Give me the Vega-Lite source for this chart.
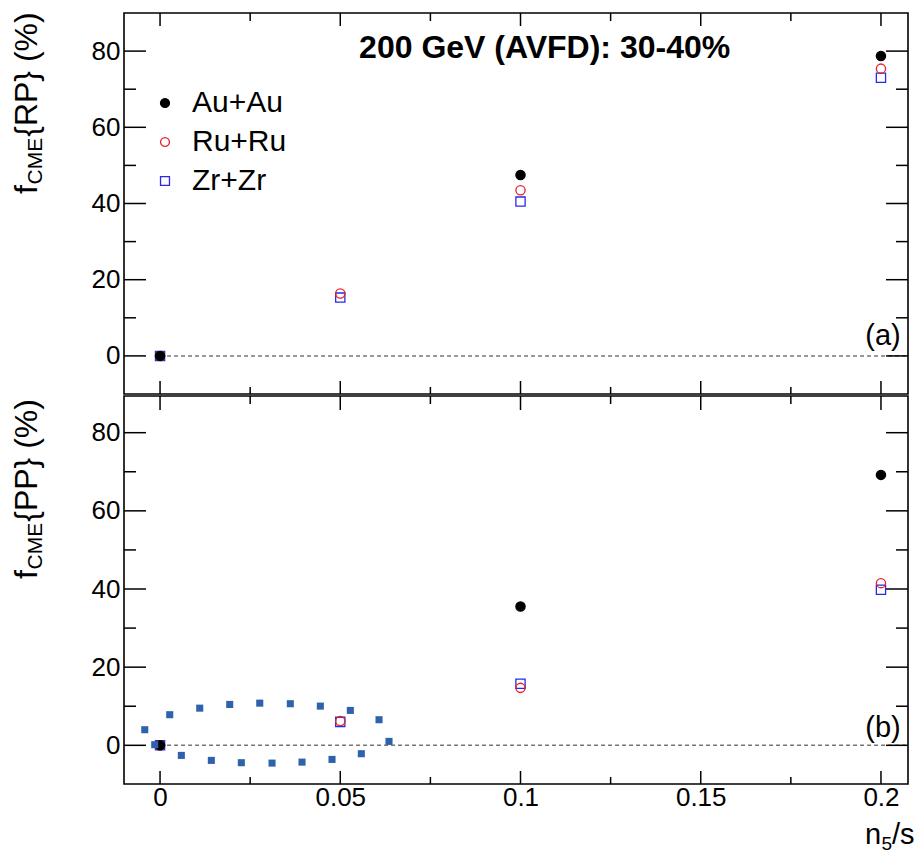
{
  "$schema": "https://vega.github.io/schema/vega-lite/v6.json",
  "background": "white",
  "padding": {"left": 10, "top": 11, "right": 0, "bottom": 0},
  "spacing": -8,
  "config": {
    "font": "Liberation Sans",
    "view": {"stroke": "#000", "strokeWidth": 1.6},
    "text": {"color": "#000"},
    "axis": {"ticks": false, "domain": false, "grid": false, "title": null}
  },
  "datasets": {
    "rp": [
      {"n5s": 0, "f": 0, "system": "Zr+Zr"},
      {"n5s": 0.05, "f": 15.3, "system": "Zr+Zr"},
      {"n5s": 0.1, "f": 40.5, "system": "Zr+Zr"},
      {"n5s": 0.2, "f": 73.0, "system": "Zr+Zr"},
      {"n5s": 0, "f": 0, "system": "Ru+Ru"},
      {"n5s": 0.05, "f": 16.4, "system": "Ru+Ru"},
      {"n5s": 0.1, "f": 43.5, "system": "Ru+Ru"},
      {"n5s": 0.2, "f": 75.4, "system": "Ru+Ru"},
      {"n5s": 0, "f": 0, "system": "Au+Au"},
      {"n5s": 0.1, "f": 47.5, "system": "Au+Au"},
      {"n5s": 0.2, "f": 78.7, "system": "Au+Au"}
    ],
    "pp": [
      {"n5s": 0, "f": 0, "system": "Zr+Zr"},
      {"n5s": 0.05, "f": 6.0, "system": "Zr+Zr"},
      {"n5s": 0.1, "f": 15.75, "system": "Zr+Zr"},
      {"n5s": 0.2, "f": 39.8, "system": "Zr+Zr"},
      {"n5s": 0, "f": 0, "system": "Ru+Ru"},
      {"n5s": 0.05, "f": 6.2, "system": "Ru+Ru"},
      {"n5s": 0.1, "f": 14.7, "system": "Ru+Ru"},
      {"n5s": 0.2, "f": 41.5, "system": "Ru+Ru"},
      {"n5s": 0, "f": 0, "system": "Au+Au"},
      {"n5s": 0.1, "f": 35.5, "system": "Au+Au"},
      {"n5s": 0.2, "f": 69.2, "system": "Au+Au"}
    ],
    "ellipse": [
      {"x": -0.00424, "y": 3.99},
      {"x": 0.00269, "y": 7.83},
      {"x": 0.01101, "y": 9.51},
      {"x": 0.01933, "y": 10.46},
      {"x": 0.02766, "y": 10.79},
      {"x": 0.03614, "y": 10.64},
      {"x": 0.04447, "y": 10.03},
      {"x": 0.05279, "y": 8.93},
      {"x": 0.06075, "y": 6.55},
      {"x": 0.06352, "y": 1.0},
      {"x": -0.00147, "y": 0.15},
      {"x": 0.00591, "y": -2.58},
      {"x": 0.01423, "y": -3.86},
      {"x": 0.02255, "y": -4.45},
      {"x": 0.03107, "y": -4.55},
      {"x": 0.03939, "y": -4.3},
      {"x": 0.04771, "y": -3.61},
      {"x": 0.05584, "y": -2.15}
    ],
    "xmaj": [{"t": 0}, {"t": 0.05}, {"t": 0.1}, {"t": 0.15}, {"t": 0.2}],
    "xmin": [{"t": 0.025}, {"t": 0.075}, {"t": 0.125}, {"t": 0.175}],
    "ymaj": [{"t": 0}, {"t": 20}, {"t": 40}, {"t": 60}, {"t": 80}],
    "ymin": [{"t": 10}, {"t": 30}, {"t": 50}, {"t": 70}]
  },
  "vconcat": [
    {
      "width": 784,
      "height": 381,
      "layer": [
        {
          "data": {"values": [{}]},
          "mark": {"type": "rule", "stroke": "#777", "strokeDash": [4, 3], "strokeWidth": 1.5},
          "encoding": {
            "x": {"datum": 0, "type": "quantitative", "scale": {"domain": [-0.01, 0.2075], "nice": false, "zero": false}, "axis": null},
            "x2": {"datum": 0.2075},
            "y": {"datum": 0, "type": "quantitative", "scale": {"domain": [-10, 90], "nice": false, "zero": false},
              "axis": {"orient": "left", "values": [0, 20, 40, 60, 80], "labelFontSize": 26, "labelColor": "#000", "labelPadding": 4, "labelFlush": false, "labelOverlap": false}}
          }
        },
        {
          "data": {"name": "xmaj"},
          "mark": {"type": "rule", "stroke": "#000", "strokeWidth": 1.5},
          "encoding": {
            "x": {"field": "t", "type": "quantitative", "scale": {"domain": [-0.01, 0.2075], "nice": false, "zero": false}, "axis": null},
            "y": {"datum": -10, "type": "quantitative", "scale": {"domain": [-10, 90], "nice": false, "zero": false}},
            "y2": {"datum": -6.588}
          }
        },
        {
          "data": {"name": "xmin"},
          "mark": {"type": "rule", "stroke": "#000", "strokeWidth": 1.5},
          "encoding": {
            "x": {"field": "t", "type": "quantitative", "scale": {"domain": [-0.01, 0.2075], "nice": false, "zero": false}, "axis": null},
            "y": {"datum": -10, "type": "quantitative", "scale": {"domain": [-10, 90], "nice": false, "zero": false}},
            "y2": {"datum": -8.163}
          }
        },
        {
          "data": {"name": "xmaj"},
          "mark": {"type": "rule", "stroke": "#000", "strokeWidth": 1.5},
          "encoding": {
            "x": {"field": "t", "type": "quantitative", "scale": {"domain": [-0.01, 0.2075], "nice": false, "zero": false}, "axis": null},
            "y": {"datum": 90, "type": "quantitative", "scale": {"domain": [-10, 90], "nice": false, "zero": false}},
            "y2": {"datum": 86.588}
          }
        },
        {
          "data": {"name": "xmin"},
          "mark": {"type": "rule", "stroke": "#000", "strokeWidth": 1.5},
          "encoding": {
            "x": {"field": "t", "type": "quantitative", "scale": {"domain": [-0.01, 0.2075], "nice": false, "zero": false}, "axis": null},
            "y": {"datum": 90, "type": "quantitative", "scale": {"domain": [-10, 90], "nice": false, "zero": false}},
            "y2": {"datum": 87.9}
          }
        },
        {
          "data": {"name": "ymaj"},
          "mark": {"type": "rule", "stroke": "#000", "strokeWidth": 1.5},
          "encoding": {
            "y": {"field": "t", "type": "quantitative", "scale": {"domain": [-10, 90], "nice": false, "zero": false}},
            "x": {"datum": -0.01, "type": "quantitative", "scale": {"domain": [-0.01, 0.2075], "nice": false, "zero": false}, "axis": null},
            "x2": {"datum": -0.003897}
          }
        },
        {
          "data": {"name": "ymin"},
          "mark": {"type": "rule", "stroke": "#000", "strokeWidth": 1.5},
          "encoding": {
            "y": {"field": "t", "type": "quantitative", "scale": {"domain": [-10, 90], "nice": false, "zero": false}},
            "x": {"datum": -0.01, "type": "quantitative", "scale": {"domain": [-0.01, 0.2075], "nice": false, "zero": false}, "axis": null},
            "x2": {"datum": -0.006671}
          }
        },
        {
          "data": {"name": "ymaj"},
          "mark": {"type": "rule", "stroke": "#000", "strokeWidth": 1.5},
          "encoding": {
            "y": {"field": "t", "type": "quantitative", "scale": {"domain": [-10, 90], "nice": false, "zero": false}},
            "x": {"datum": 0.2075, "type": "quantitative", "scale": {"domain": [-0.01, 0.2075], "nice": false, "zero": false}, "axis": null},
            "x2": {"datum": 0.201397}
          }
        },
        {
          "data": {"name": "ymin"},
          "mark": {"type": "rule", "stroke": "#000", "strokeWidth": 1.5},
          "encoding": {
            "y": {"field": "t", "type": "quantitative", "scale": {"domain": [-10, 90], "nice": false, "zero": false}},
            "x": {"datum": 0.2075, "type": "quantitative", "scale": {"domain": [-0.01, 0.2075], "nice": false, "zero": false}, "axis": null},
            "x2": {"datum": 0.204171}
          }
        },
        {
          "data": {"name": "rp"},
          "mark": {"type": "point", "size": 85, "strokeWidth": 1.3, "opacity": 1},
          "encoding": {
            "x": {"field": "n5s", "type": "quantitative", "scale": {"domain": [-0.01, 0.2075], "nice": false, "zero": false}, "axis": null},
            "y": {"field": "f", "type": "quantitative", "scale": {"domain": [-10, 90], "nice": false, "zero": false}},
            "fill": {"field": "system", "type": "nominal", "scale": {"domain": ["Au+Au", "Ru+Ru", "Zr+Zr"], "range": ["#000000", "transparent", "transparent"]},
              "legend": {"title": null, "orient": "none", "legendX": 26, "legendY": 75, "labelFontSize": 30, "labelColor": "#000", "symbolSize": 80, "symbolStrokeWidth": 1.3, "labelOffset": 12, "rowPadding": 9, "padding": 0}},
            "stroke": {"field": "system", "type": "nominal", "scale": {"domain": ["Au+Au", "Ru+Ru", "Zr+Zr"], "range": ["#000000", "#e8202a", "#2a2ae8"]},
              "legend": {"title": null, "orient": "none", "legendX": 26, "legendY": 75, "labelFontSize": 30, "labelColor": "#000", "symbolSize": 80, "symbolStrokeWidth": 1.3, "labelOffset": 12, "rowPadding": 9, "padding": 0}},
            "shape": {"field": "system", "type": "nominal", "scale": {"domain": ["Au+Au", "Ru+Ru", "Zr+Zr"], "range": ["circle", "circle", "square"]},
              "legend": {"title": null, "orient": "none", "legendX": 26, "legendY": 75, "labelFontSize": 30, "labelColor": "#000", "symbolSize": 80, "symbolStrokeWidth": 1.3, "labelOffset": 12, "rowPadding": 9, "padding": 0}}
          }
        },
        {
          "data": {"values": [{}]},
          "mark": {"type": "text", "text": "200 GeV (AVFD): 30-40%", "fontSize": 32, "fontWeight": "bold", "align": "center", "baseline": "alphabetic"},
          "encoding": {
            "x": {"datum": 0.1067, "type": "quantitative", "scale": {"domain": [-0.01, 0.2075], "nice": false, "zero": false}, "axis": null},
            "y": {"datum": 78.3, "type": "quantitative", "scale": {"domain": [-10, 90], "nice": false, "zero": false}}
          }
        },
        {
          "data": {"values": [{}]},
          "mark": {"type": "text", "text": "(a)", "fontSize": 29, "align": "right", "baseline": "alphabetic"},
          "encoding": {
            "x": {"datum": 0.2055, "type": "quantitative", "scale": {"domain": [-0.01, 0.2075], "nice": false, "zero": false}, "axis": null},
            "y": {"datum": 2.9, "type": "quantitative", "scale": {"domain": [-10, 90], "nice": false, "zero": false}}
          }
        },
        {
          "data": {"values": [{}]},
          "mark": {"type": "text", "text": "f", "fontSize": 32, "angle": 270, "align": "left", "baseline": "alphabetic"},
          "encoding": {
            "x": {"datum": -0.03412, "type": "quantitative", "scale": {"domain": [-0.01, 0.2075], "nice": false, "zero": false}, "axis": null},
            "y": {"datum": 42.49, "type": "quantitative", "scale": {"domain": [-10, 90], "nice": false, "zero": false}}
          }
        },
        {
          "data": {"values": [{}]},
          "mark": {"type": "text", "text": "CME", "fontSize": 21, "angle": 270, "align": "left", "baseline": "alphabetic"},
          "encoding": {
            "x": {"datum": -0.03273, "type": "quantitative", "scale": {"domain": [-0.01, 0.2075], "nice": false, "zero": false}, "axis": null},
            "y": {"datum": 44.99, "type": "quantitative", "scale": {"domain": [-10, 90], "nice": false, "zero": false}}
          }
        },
        {
          "data": {"values": [{}]},
          "mark": {"type": "text", "text": "{RP} (%)", "fontSize": 32, "angle": 270, "align": "left", "baseline": "alphabetic"},
          "encoding": {
            "x": {"datum": -0.03412, "type": "quantitative", "scale": {"domain": [-0.01, 0.2075], "nice": false, "zero": false}, "axis": null},
            "y": {"datum": 57.51, "type": "quantitative", "scale": {"domain": [-10, 90], "nice": false, "zero": false}}
          }
        }
      ]
    },
    {
      "width": 784,
      "height": 388,
      "layer": [
        {
          "data": {"values": [{}]},
          "mark": {"type": "rule", "stroke": "#777", "strokeDash": [4, 3], "strokeWidth": 1.5},
          "encoding": {
            "x": {"datum": 0, "type": "quantitative", "scale": {"domain": [-0.01, 0.2075], "nice": false, "zero": false},
              "axis": {"orient": "bottom", "values": [0, 0.05, 0.1, 0.15, 0.2], "format": "~g", "labelFontSize": 26, "labelColor": "#000", "labelPadding": 0, "labelFlush": false, "labelOverlap": false}},
            "x2": {"datum": 0.2075},
            "y": {"datum": 0, "type": "quantitative", "scale": {"domain": [-9.9, 89.39], "nice": false, "zero": false},
              "axis": {"orient": "left", "values": [0, 20, 40, 60, 80], "labelFontSize": 26, "labelColor": "#000", "labelPadding": 4, "labelFlush": false, "labelOverlap": false}}
          }
        },
        {
          "data": {"name": "xmaj"},
          "mark": {"type": "rule", "stroke": "#000", "strokeWidth": 1.5},
          "encoding": {
            "x": {"field": "t", "type": "quantitative", "scale": {"domain": [-0.01, 0.2075], "nice": false, "zero": false}},
            "y": {"datum": -9.9, "type": "quantitative", "scale": {"domain": [-9.9, 89.39], "nice": false, "zero": false}},
            "y2": {"datum": -6.573}
          }
        },
        {
          "data": {"name": "xmin"},
          "mark": {"type": "rule", "stroke": "#000", "strokeWidth": 1.5},
          "encoding": {
            "x": {"field": "t", "type": "quantitative", "scale": {"domain": [-0.01, 0.2075], "nice": false, "zero": false}},
            "y": {"datum": -9.9, "type": "quantitative", "scale": {"domain": [-9.9, 89.39], "nice": false, "zero": false}},
            "y2": {"datum": -8.109}
          }
        },
        {
          "data": {"name": "xmaj"},
          "mark": {"type": "rule", "stroke": "#000", "strokeWidth": 1.5},
          "encoding": {
            "x": {"field": "t", "type": "quantitative", "scale": {"domain": [-0.01, 0.2075], "nice": false, "zero": false}},
            "y": {"datum": 89.39, "type": "quantitative", "scale": {"domain": [-9.9, 89.39], "nice": false, "zero": false}},
            "y2": {"datum": 85.807}
          }
        },
        {
          "data": {"name": "xmin"},
          "mark": {"type": "rule", "stroke": "#000", "strokeWidth": 1.5},
          "encoding": {
            "x": {"field": "t", "type": "quantitative", "scale": {"domain": [-0.01, 0.2075], "nice": false, "zero": false}},
            "y": {"datum": 89.39, "type": "quantitative", "scale": {"domain": [-9.9, 89.39], "nice": false, "zero": false}},
            "y2": {"datum": 87.343}
          }
        },
        {
          "data": {"name": "ymaj"},
          "mark": {"type": "rule", "stroke": "#000", "strokeWidth": 1.5},
          "encoding": {
            "y": {"field": "t", "type": "quantitative", "scale": {"domain": [-9.9, 89.39], "nice": false, "zero": false}},
            "x": {"datum": -0.01, "type": "quantitative", "scale": {"domain": [-0.01, 0.2075], "nice": false, "zero": false}},
            "x2": {"datum": -0.003897}
          }
        },
        {
          "data": {"name": "ymin"},
          "mark": {"type": "rule", "stroke": "#000", "strokeWidth": 1.5},
          "encoding": {
            "y": {"field": "t", "type": "quantitative", "scale": {"domain": [-9.9, 89.39], "nice": false, "zero": false}},
            "x": {"datum": -0.01, "type": "quantitative", "scale": {"domain": [-0.01, 0.2075], "nice": false, "zero": false}},
            "x2": {"datum": -0.006671}
          }
        },
        {
          "data": {"name": "ymaj"},
          "mark": {"type": "rule", "stroke": "#000", "strokeWidth": 1.5},
          "encoding": {
            "y": {"field": "t", "type": "quantitative", "scale": {"domain": [-9.9, 89.39], "nice": false, "zero": false}},
            "x": {"datum": 0.2075, "type": "quantitative", "scale": {"domain": [-0.01, 0.2075], "nice": false, "zero": false}},
            "x2": {"datum": 0.201397}
          }
        },
        {
          "data": {"name": "ymin"},
          "mark": {"type": "rule", "stroke": "#000", "strokeWidth": 1.5},
          "encoding": {
            "y": {"field": "t", "type": "quantitative", "scale": {"domain": [-9.9, 89.39], "nice": false, "zero": false}},
            "x": {"datum": 0.2075, "type": "quantitative", "scale": {"domain": [-0.01, 0.2075], "nice": false, "zero": false}},
            "x2": {"datum": 0.204171}
          }
        },
        {
          "data": {"name": "pp"},
          "mark": {"type": "point", "size": 85, "strokeWidth": 1.3, "opacity": 1},
          "encoding": {
            "x": {"field": "n5s", "type": "quantitative", "scale": {"domain": [-0.01, 0.2075], "nice": false, "zero": false}},
            "y": {"field": "f", "type": "quantitative", "scale": {"domain": [-9.9, 89.39], "nice": false, "zero": false}},
            "fill": {"field": "system", "type": "nominal", "scale": {"domain": ["Au+Au", "Ru+Ru", "Zr+Zr"], "range": ["#000000", "transparent", "transparent"]},
              "legend": {"title": null, "orient": "none", "legendX": 26, "legendY": 75, "labelFontSize": 30, "labelColor": "#000", "symbolSize": 80, "symbolStrokeWidth": 1.3, "labelOffset": 12, "rowPadding": 9, "padding": 0}},
            "stroke": {"field": "system", "type": "nominal", "scale": {"domain": ["Au+Au", "Ru+Ru", "Zr+Zr"], "range": ["#000000", "#e8202a", "#2a2ae8"]},
              "legend": {"title": null, "orient": "none", "legendX": 26, "legendY": 75, "labelFontSize": 30, "labelColor": "#000", "symbolSize": 80, "symbolStrokeWidth": 1.3, "labelOffset": 12, "rowPadding": 9, "padding": 0}},
            "shape": {"field": "system", "type": "nominal", "scale": {"domain": ["Au+Au", "Ru+Ru", "Zr+Zr"], "range": ["circle", "circle", "square"]},
              "legend": {"title": null, "orient": "none", "legendX": 26, "legendY": 75, "labelFontSize": 30, "labelColor": "#000", "symbolSize": 80, "symbolStrokeWidth": 1.3, "labelOffset": 12, "rowPadding": 9, "padding": 0}}
          }
        },
        {
          "data": {"name": "ellipse"},
          "mark": {"type": "point", "shape": "square", "filled": true, "size": 50, "color": "#2e62aa", "opacity": 1},
          "encoding": {
            "x": {"field": "x", "type": "quantitative", "scale": {"domain": [-0.01, 0.2075], "nice": false, "zero": false}},
            "y": {"field": "y", "type": "quantitative", "scale": {"domain": [-9.9, 89.39], "nice": false, "zero": false}}
          }
        },
        {
          "data": {"values": [{}]},
          "mark": {"type": "text", "text": "(b)", "fontSize": 29, "align": "right", "baseline": "alphabetic"},
          "encoding": {
            "x": {"datum": 0.2055, "type": "quantitative", "scale": {"domain": [-0.01, 0.2075], "nice": false, "zero": false}},
            "y": {"datum": 2.12, "type": "quantitative", "scale": {"domain": [-9.9, 89.39], "nice": false, "zero": false}}
          }
        },
        {
          "data": {"values": [{}]},
          "mark": {"type": "text", "text": "f", "fontSize": 32, "angle": 270, "align": "left", "baseline": "alphabetic"},
          "encoding": {
            "x": {"datum": -0.03412, "type": "quantitative", "scale": {"domain": [-0.01, 0.2075], "nice": false, "zero": false}},
            "y": {"datum": 42.56, "type": "quantitative", "scale": {"domain": [-9.9, 89.39], "nice": false, "zero": false}}
          }
        },
        {
          "data": {"values": [{}]},
          "mark": {"type": "text", "text": "CME", "fontSize": 21, "angle": 270, "align": "left", "baseline": "alphabetic"},
          "encoding": {
            "x": {"datum": -0.03273, "type": "quantitative", "scale": {"domain": [-0.01, 0.2075], "nice": false, "zero": false}},
            "y": {"datum": 44.99, "type": "quantitative", "scale": {"domain": [-9.9, 89.39], "nice": false, "zero": false}}
          }
        },
        {
          "data": {"values": [{}]},
          "mark": {"type": "text", "text": "{PP} (%)", "fontSize": 32, "angle": 270, "align": "left", "baseline": "alphabetic"},
          "encoding": {
            "x": {"datum": -0.03412, "type": "quantitative", "scale": {"domain": [-0.01, 0.2075], "nice": false, "zero": false}},
            "y": {"datum": 57.2, "type": "quantitative", "scale": {"domain": [-9.9, 89.39], "nice": false, "zero": false}}
          }
        },
        {
          "data": {"values": [{}]},
          "mark": {"type": "text", "text": "n", "fontSize": 29, "align": "left", "baseline": "alphabetic"},
          "encoding": {
            "x": {"datum": 0.19558, "type": "quantitative", "scale": {"domain": [-0.01, 0.2075], "nice": false, "zero": false}},
            "y": {"datum": -25.26, "type": "quantitative", "scale": {"domain": [-9.9, 89.39], "nice": false, "zero": false}}
          }
        },
        {
          "data": {"values": [{}]},
          "mark": {"type": "text", "text": "5", "fontSize": 19, "align": "left", "baseline": "alphabetic"},
          "encoding": {
            "x": {"datum": 0.20016, "type": "quantitative", "scale": {"domain": [-0.01, 0.2075], "nice": false, "zero": false}},
            "y": {"datum": -26.79, "type": "quantitative", "scale": {"domain": [-9.9, 89.39], "nice": false, "zero": false}}
          }
        },
        {
          "data": {"values": [{}]},
          "mark": {"type": "text", "text": "/s", "fontSize": 29, "align": "left", "baseline": "alphabetic"},
          "encoding": {
            "x": {"datum": 0.20307, "type": "quantitative", "scale": {"domain": [-0.01, 0.2075], "nice": false, "zero": false}},
            "y": {"datum": -25.26, "type": "quantitative", "scale": {"domain": [-9.9, 89.39], "nice": false, "zero": false}}
          }
        }
      ]
    }
  ]
}
